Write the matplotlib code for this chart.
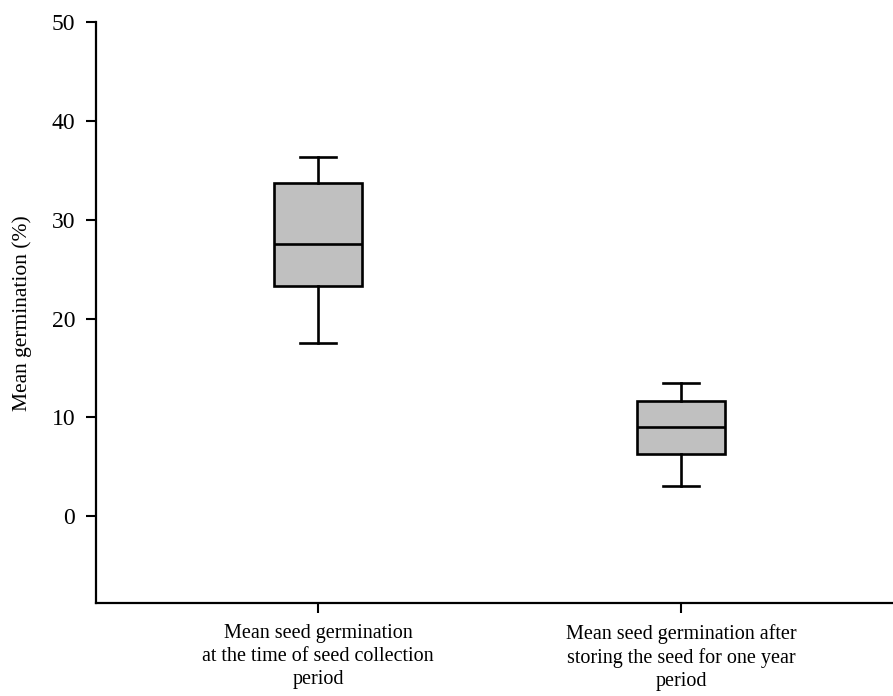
import matplotlib.pyplot as plt

plt.rcParams['font.family'] = ['Liberation Serif', 'DejaVu Serif']
plt.rcParams['font.size'] = 14

# 两组种子发芽率的箱线图统计量
labels = ['Mean seed germination\nat the time of seed collection\nperiod',
          'Mean seed germination after\nstoring the seed for one year\nperiod']
whislo = [17.5, 3.0]
q1 = [23.3, 6.3]
med = [27.5, 9.0]
q3 = [33.7, 11.7]
whishi = [36.4, 13.5]

stats = []
for i in range(len(labels)):
    stats.append({'whislo': whislo[i], 'q1': q1[i], 'med': med[i],
                  'q3': q3[i], 'whishi': whishi[i], 'fliers': []})

fig = plt.figure(figsize=(8.93, 6.96), dpi=100)
ax = fig.add_axes([0.1075, 0.1336, 0.8925, 0.8344])

lw = 1.9
ax.bxp(stats, positions=[1, 2], widths=0.242, capwidths=0.1,
       showfliers=False, patch_artist=True,
       boxprops=dict(facecolor='#c0c0c0', edgecolor='black', linewidth=lw),
       medianprops=dict(color='black', linewidth=lw),
       whiskerprops=dict(color='black', linewidth=lw),
       capprops=dict(color='black', linewidth=lw))

# 坐标轴范围和刻度
ax.set_xlim(0.388, 2.584)
ax.set_ylim(-8.8, 50)
ax.set_yticks(range(0, 51, 10))
ax.set_xticks([1, 2])
ax.set_xticklabels(labels, fontsize=14.5, linespacing=1.28)
ax.set_ylabel('Mean germination (%)', fontsize=15.5, labelpad=14)

ax.spines['top'].set_visible(False)
ax.spines['right'].set_visible(False)
ax.spines['left'].set_linewidth(1.6)
ax.spines['bottom'].set_linewidth(1.6)
ax.tick_params(axis='y', direction='out', length=7, width=1.5, labelsize=17, pad=8)
ax.tick_params(axis='x', direction='out', length=7, width=1.5, pad=8)

plt.savefig('out.png', dpi=100)
